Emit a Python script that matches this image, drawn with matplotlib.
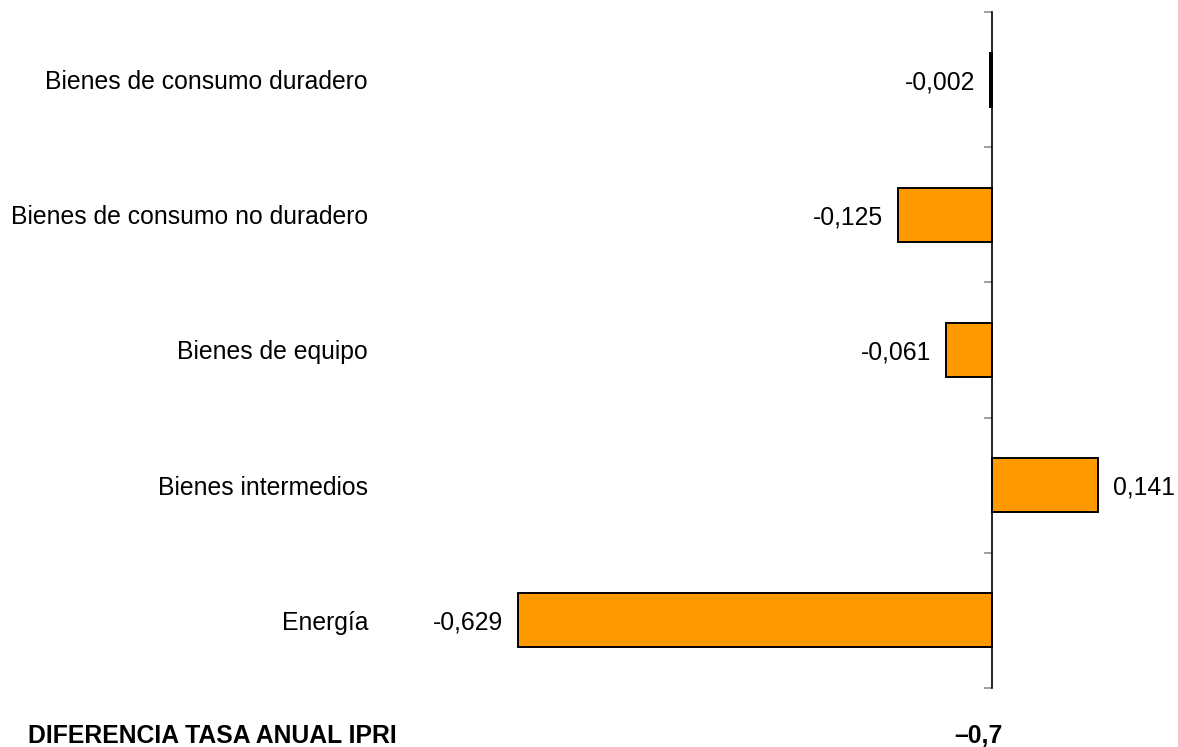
import matplotlib
matplotlib.use("Agg")
import matplotlib.pyplot as plt
from matplotlib.transforms import blended_transform_factory, ScaledTranslation
import numpy as np

plt.rcParams['font.family'] = ['Liberation Sans', 'DejaVu Sans']

categories = ["Energía", "Bienes intermedios", "Bienes de equipo",
              "Bienes de consumo no duradero", "Bienes de consumo duradero"]
values = [-0.629, 0.141, -0.061, -0.125, -0.002]
total_label = "DIFERENCIA TASA ANUAL IPRI"
total_value = "–0,7"

W, H = 1178, 747
fig = plt.figure(figsize=(W / 100, H / 100), dpi=100)

zero_px = 992
ppu = 753.0
left_px, right_px = 400, 1178
top_px, bot_px = 12, 688
ax = fig.add_axes([left_px / W, 1 - bot_px / H, (right_px - left_px) / W, (bot_px - top_px) / H])
ax.set_xlim(-(zero_px - left_px) / ppu, (right_px - zero_px) / ppu)
ax.set_ylim(-0.5, len(categories) - 0.5)

y = np.arange(len(categories))
ax.barh(y, values, height=0.4, color="#FF9900", edgecolor="black", linewidth=1.4, zorder=2)

for s in ["top", "right", "bottom"]:
    ax.spines[s].set_visible(False)
ax.spines["left"].set_position(("data", 0))
ax.spines["left"].set_linewidth(1.2)
ax.spines["left"].set_zorder(3)
ax.set_xticks([])
ax.set_yticks([])
ax.set_yticks(np.arange(-0.5, len(categories)), minor=True)
ax.tick_params(axis="y", which="minor", length=6, width=1.2, color="#909090", direction="out")
ax.yaxis.set_minor_formatter(matplotlib.ticker.NullFormatter())

fs = 17.8
down = ScaledTranslation(0, -2.5 / 100, fig.dpi_scale_trans)
trans = blended_transform_factory(fig.transFigure, ax.transData) + down
for yi, cat in zip(y, categories):
    ax.text(368 / W, yi, cat, transform=trans, ha="right", va="center", fontsize=fs)

gap = 15 / ppu
dtrans = ax.transData + down
for yi, v in zip(y, values):
    lbl = f"{v:.3f}".replace(".", ",")
    if v < 0:
        ax.text(v - gap, yi, lbl, transform=dtrans, ha="right", va="center", fontsize=fs)
    else:
        ax.text(v + gap, yi, lbl, transform=dtrans, ha="left", va="center", fontsize=fs)

fig.text(28 / W, 1 - 736 / H, total_label, ha="left", va="center", fontsize=fs, fontweight="bold")
fig.text(978 / W, 1 - 736 / H, total_value, ha="center", va="center", fontsize=fs, fontweight="bold")

fig.savefig("out.png", dpi=100)
